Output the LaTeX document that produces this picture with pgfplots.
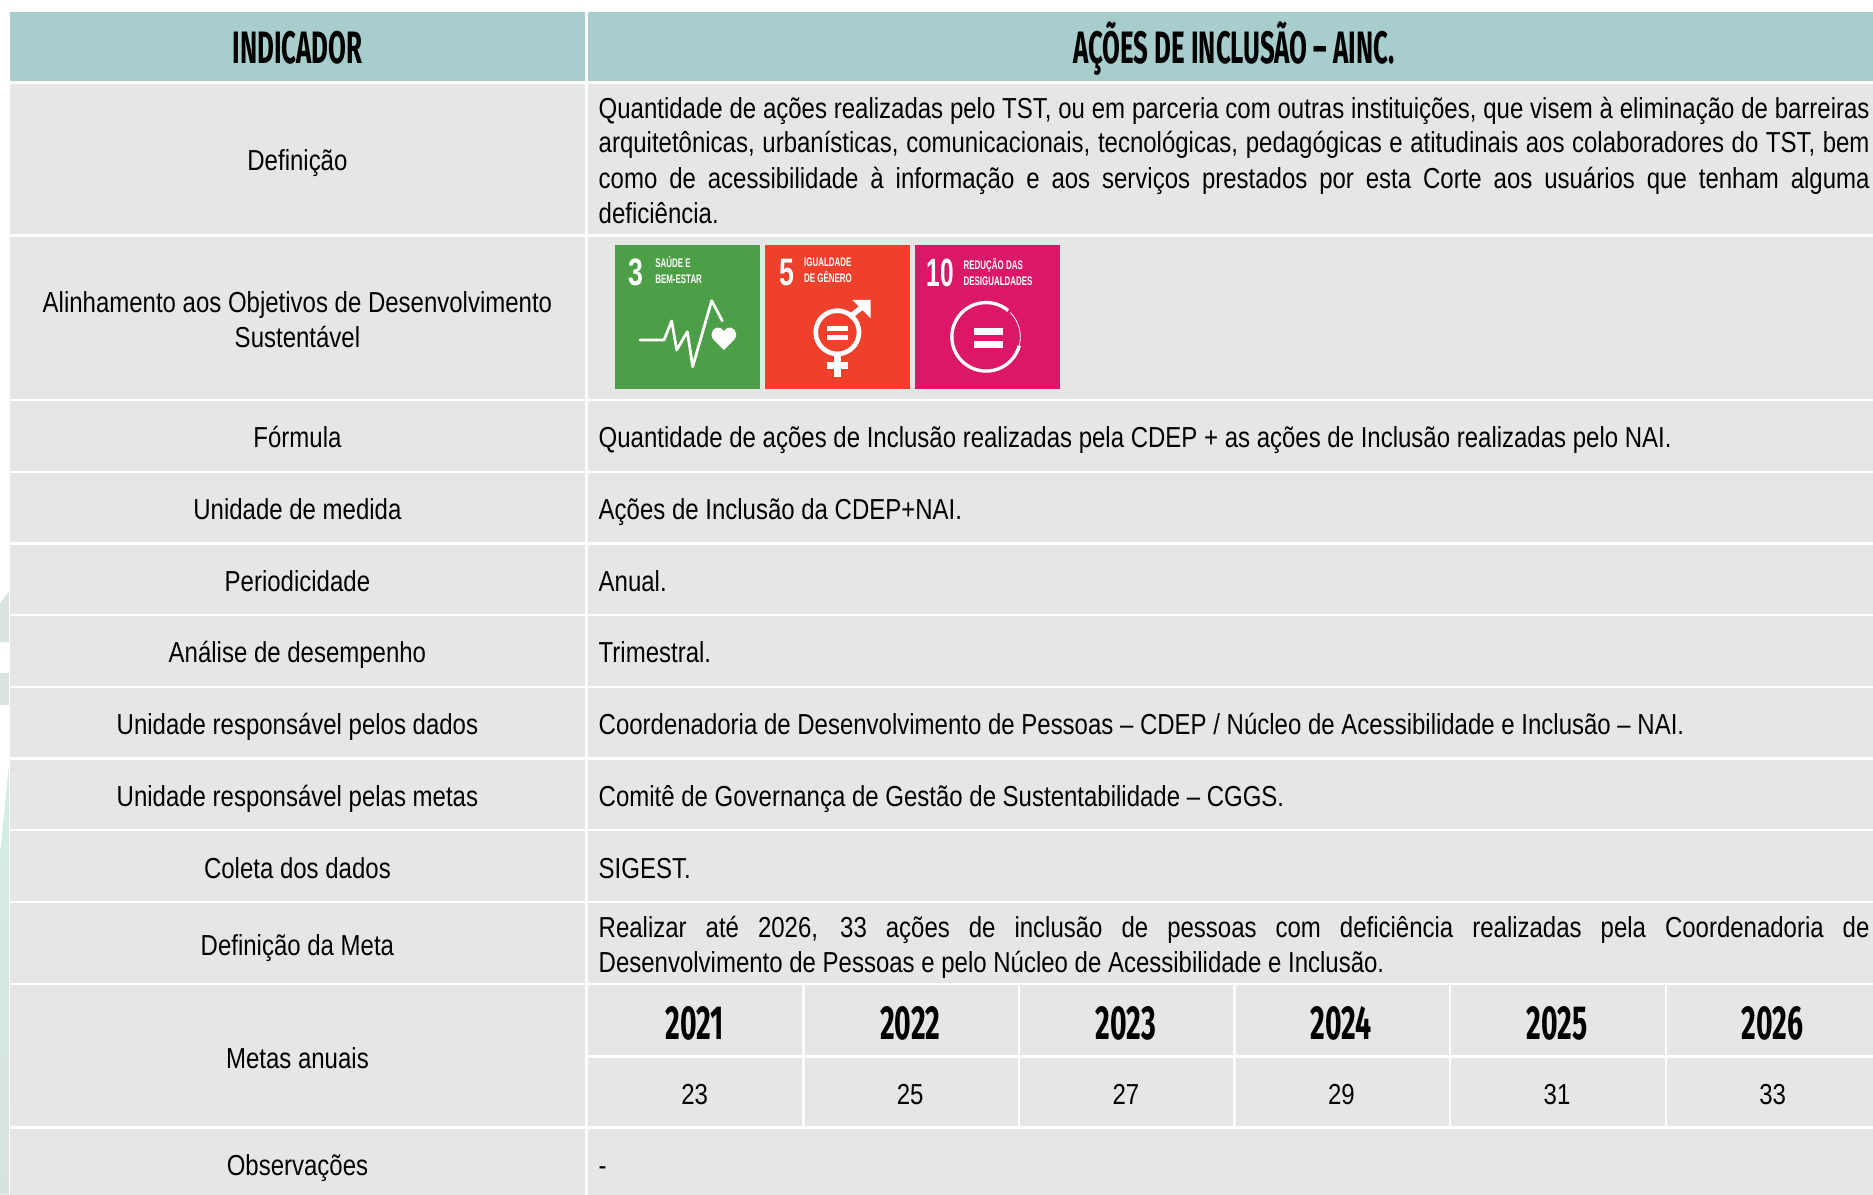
\documentclass[border=0pt]{standalone}
\usepackage{pgfplots}
\pgfplotsset{compat=1.18}
\usepackage{fontspec}
\setmainfont[FakeStretch=0.83]{Liberation Sans}
\newfontfamily\headf[FakeStretch=0.57]{Fira Sans}
\newfontfamily\yearf[FakeStretch=0.595]{Fira Sans}
\newfontfamily\icof[FakeStretch=0.64]{Liberation Sans}
\newfontfamily\numf[FakeStretch=0.70]{Liberation Sans}
\newfontfamily\numg[FakeStretch=0.62]{Liberation Sans}
\definecolor{hd}{HTML}{A7CECC}
\definecolor{cell}{HTML}{E6E6E6}
\definecolor{bandA}{HTML}{D5EDE7}
\definecolor{bandB}{HTML}{D6E2E0}
\definecolor{bandC}{HTML}{D9E4E2}
\definecolor{gr}{HTML}{4C9F47}
\definecolor{rd}{HTML}{EF402B}
\definecolor{pk}{HTML}{DD1767}
\newcommand\body{\fontsize{24.2}{29}\selectfont}
\newcommand\J[3]{\node[anchor=base west,inner sep=0pt] at (#1,#2) {\body\makebox[1064pt][s]{#3}};}
\newcommand\Lf[3]{\node[anchor=base west,inner sep=0pt] at (#1,#2) {\body #3};}
\newcommand\Cn[3]{\node[anchor=base,inner sep=0pt] at (#1,#2) {\body #3};}
\newcommand\Row[2]{\fill[cell] (8,#1) rectangle (490,#2);\fill[cell] (492,#1) rectangle (1568,#2);}
\newcommand\VL[1]{\fill[white] (#1,825) rectangle ([xshift=2pt]#1,943);}
\newcommand\Ico[4]{\node[anchor=base west,inner sep=0pt,text=white] at (#1,#2) {\parbox[t]{70pt}{\icof\fontsize{10.4}{#3}\selectfont\bfseries #4}};}
\pgfplotstableread{
x y lab
581.5 856 2021
762 856 2022
942.5 856 2023
1123 856 2024
1303.5 856 2025
1484 856 2026
}\years
\pgfplotstableread{
x y val
581.5 916 23
762 916 25
942.5 916 27
1123 916 29
1303.5 916 31
1484 916 33
}\metas
\begin{document}
\begin{tikzpicture}
\begin{axis}[hide axis,scale only axis,width=1568pt,height=1000pt,xmin=0,xmax=1568,ymin=0,ymax=1000,y dir=reverse,clip=false]
\fill[white] (0,0) rectangle (1568,1000);
\fill[bandC] (0,505.5) -- (7.5,495) -- (7.5,537.5) -- (0,537.5) -- cycle;
\fill[bandC] (0,563) rectangle (7.5,590);
\shade[top color=bandA,bottom color=bandB] (0,716) -- (7.5,641) -- (7.5,1000) -- (0,1000) -- cycle;
% header
\fill[hd] (8,10) rectangle (490,68);
\fill[hd] (492,10) rectangle (1568,68);
% rows
\Row{70}{196}
\Row{198}{334}
\Row{336}{394}
\Row{396}{454}
\Row{456}{514}
\Row{516}{574}
\Row{576}{634}
\Row{636}{694}
\Row{696}{754}
\Row{756}{823}
\Row{825}{943}
\Row{945}{1000}
\fill[white] (492,883.5) rectangle (1568,885.5);
\VL{671.5}
\VL{852}
\VL{1032.5}
\VL{1213}
\VL{1393.5}
% headers
\node[inner sep=0pt,anchor=base] at (249,53) {\headf\fontsize{38}{40}\selectfont\bfseries INDICADOR};
\node[inner sep=0pt,anchor=base] at (1033,53) {\headf\fontsize{38}{40}\selectfont\bfseries AÇÕES DE INCLUSÃO – AINC.};
% left column
\Cn{249}{142.5}{Definição}
\Cn{249}{261.5}{Alinhamento aos Objetivos de Desenvolvimento}
\Cn{249}{290.5}{Sustentável}
\Cn{249}{375}{Fórmula}
\Cn{249}{435}{Unidade de medida}
\Cn{249}{495}{Periodicidade}
\Cn{249}{555}{Análise de desempenho}
\Cn{249}{615}{Unidade responsável pelos dados}
\Cn{249}{675}{Unidade responsável pelas metas}
\Cn{249}{735.5}{Coleta dos dados}
\Cn{249}{799.5}{Definição da Meta}
\Cn{249}{894.5}{Metas anuais}
\Cn{249}{984}{Observações}
% right column
\J{501}{99}{Quantidade de ações realizadas pelo TST, ou em parceria com outras instituições, que visem à eliminação de barreiras}
\J{501}{128}{arquitetônicas, urbanísticas, comunicacionais, tecnológicas, pedagógicas e atitudinais aos colaboradores do TST, bem}
\J{501}{157.5}{como de acessibilidade à informação e aos serviços prestados por esta Corte aos usuários que tenham alguma}
\Lf{501}{187}{deficiência.}
\Lf{501}{375}{Quantidade de ações de Inclusão realizadas pela CDEP + as ações de Inclusão realizadas pelo NAI.}
\Lf{501}{435}{Ações de Inclusão da CDEP+NAI.}
\Lf{501}{495}{Anual.}
\Lf{501}{555}{Trimestral.}
\Lf{501}{615}{Coordenadoria de Desenvolvimento de Pessoas – CDEP / Núcleo de Acessibilidade e Inclusão – NAI.}
\Lf{501}{675}{Comitê de Governança de Gestão de Sustentabilidade – CGGS.}
\Lf{501}{735.5}{SIGEST.}
\J{501}{785}{Realizar até 2026, 33 ações de inclusão de pessoas com deficiência realizadas pela Coordenadoria de}
\Lf{501}{814}{Desenvolvimento de Pessoas e pelo Núcleo de Acessibilidade e Inclusão.}
\Lf{501}{984}{-}
% SDG icons
\fill[gr] (515,205) rectangle (636,326);
\fill[rd] (640.5,205) rectangle (761.5,326);
\fill[pk] (766,205) rectangle (887,326);
\node[inner sep=0pt,anchor=base,text=white] at (532.1,238.6) {\numf\fontsize{32}{32}\selectfont\bfseries 3};
\Ico{548.4}{224}{13.2}{SAÚDE E\\BEM-ESTAR}
\node[inner sep=0pt,anchor=base,text=white] at (658.9,238.6) {\numf\fontsize{32}{32}\selectfont\bfseries 5};
\Ico{673}{223.5}{13.1}{IGUALDADE\\DE GÊNERO}
\node[inner sep=0pt,anchor=base,text=white] at (787,240) {\numg\fontsize{33}{33}\selectfont\bfseries 10};
\Ico{806.5}{225.5}{13.1}{REDUÇÃO DAS\\DESIGUALDADES}
% icon 3: heartbeat
\draw[white,line width=2.3pt,line join=round,line cap=round] (535.8,284.6) -- (555.9,284.6) -- (562.3,268.7) -- (566.5,293) -- (575.4,277.7) -- (579.9,307) -- (595.8,251.7) -- (604.7,268.7);
\fill[white] (606,293) -- (597,284) .. controls (593,278) and (599,272.5) .. (603,274.5) -- (606,277) -- (609,274.5) .. controls (613,272.5) and (619,278) .. (615,284) -- cycle;
% icon 5: gender
\draw[white,line width=3.9pt] (701,278.2) circle[radius=18.1pt];
\fill[white] (692,272.6) rectangle (710,277.2);
\fill[white] (692,280.4) rectangle (710,284.9);
\fill[white] (698.5,297.8) rectangle (703.8,315.3);
\fill[white] (692.3,303.3) rectangle (710,308.9);
\draw[white,line width=4.4pt] (711,265.5) -- (724.1,255.3);
\fill[white] (713.6,251.1) -- (728.9,251.1) -- (728.9,266.5) -- cycle;
% icon 10: reduced inequalities
\draw[white,line width=2.8pt] (844,260) arc[start angle=50,end angle=345,radius=28.7pt];
\draw[white,line width=0.7pt] (853.2,289.4) arc[start angle=-15,end angle=45,radius=28.7pt];
\fill[white] (815,274.6) rectangle (840,280.5);
\fill[white] (815,285.5) rectangle (840,291.3);
% data rows
\addplot[draw=none,mark=none,nodes near coords,point meta=explicit symbolic,
  nodes near coords style={anchor=base,inner sep=0pt,yshift=-14pt,font=\yearf\fontsize{40}{42}\selectfont\bfseries}]
  table[x=x,y=y,meta=lab] {\years};
\addplot[draw=none,mark=none,nodes near coords,point meta=explicit symbolic,
  nodes near coords style={anchor=base,inner sep=0pt,yshift=-8.5pt,font=\body}]
  table[x=x,y=y,meta=val] {\metas};
\end{axis}
\end{tikzpicture}
\end{document}
